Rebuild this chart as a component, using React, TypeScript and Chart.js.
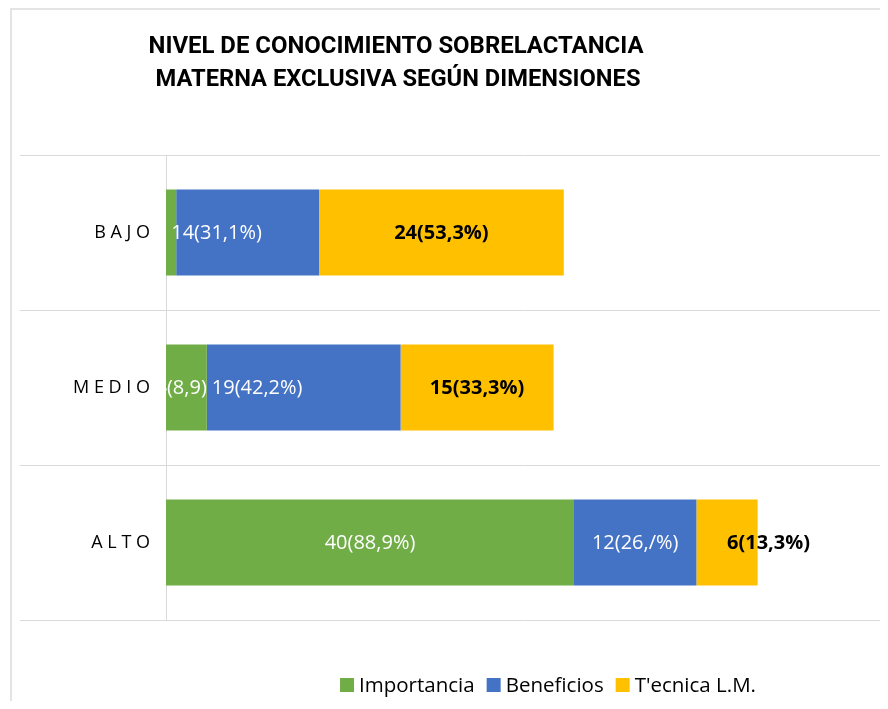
import React, { useEffect, useRef } from "react";
import { Chart, registerables } from "chart.js";

Chart.register(...registerables);

const TITLE_LINES = [
  "NIVEL DE CONOCIMIENTO SOBRELACTANCIA",
  "MATERNA EXCLUSIVA SEGÚN DIMENSIONES",
];
const CATEGORIES = ["B A J O", "M E D I O", "A L T O"];
const SERIES_NAMES = ["Importancia", "Beneficios", "T'ecnica L.M."];
const IMPORTANCIA = [1, 4, 40];
const BENEFICIOS = [14, 19, 12];
const TECNICA = [24, 15, 6];
const IMPORTANCIA_LABELS = ["", "4(8,9)", "40(88,9%)"];
const BENEFICIOS_LABELS = ["14(31,1%)", "19(42,2%)", "12(26,/%)"];
const TECNICA_LABELS = ["24(53,3%)", "15(33,3%)", "6(13,3%)"];
const X_MAX = 70;

const COLORS = ["#70AD47", "#4472C4", "#FFC000"];
const LABEL_COLORS = ["#ffffff", "#ffffff", "#000000"];
const LABEL_WEIGHT = ["normal", "normal", "bold"];
const LABEL_ALIGN = [
  ["center", "end", "center"],
  ["edge", "start", "center"],
  ["center", "center", "mid"],
];
const FONT = "'Open Sans', 'Noto Sans', sans-serif";
const GRID = "#d9d9d9";

const framePlugin = {
  id: "frame",
  beforeDraw(chart: any) {
    const { ctx, width, height } = chart;
    ctx.save();
    ctx.strokeStyle = "#e4e4e4";
    ctx.lineWidth = 2;
    ctx.beginPath();
    ctx.moveTo(3, height);
    ctx.lineTo(3, 1);
    ctx.lineTo(width, 1);
    ctx.stroke();
    ctx.restore();
  },
  beforeDatasetsDraw(chart: any) {
    const { ctx, chartArea } = chart;
    const y = chart.scales.y;
    const step = y.getPixelForValue(1) - y.getPixelForValue(0);
    ctx.save();
    ctx.strokeStyle = GRID;
    ctx.lineWidth = 1;
    for (let i = 0; i <= CATEGORIES.length; i++) {
      const py = Math.round(y.getPixelForValue(i) - step / 2) + 0.5;
      ctx.beginPath();
      ctx.moveTo(12, py);
      ctx.lineTo(chartArea.left, py);
      ctx.stroke();
    }
    ctx.restore();
  },
};

const labelsPlugin = {
  id: "segLabels",
  afterDatasetsDraw(chart: any) {
    const { ctx } = chart;
    const all = [IMPORTANCIA_LABELS, BENEFICIOS_LABELS, TECNICA_LABELS];
    ctx.save();
    ctx.textBaseline = "middle";
    chart.data.datasets.forEach((_: any, i: number) => {
      const meta = chart.getDatasetMeta(i);
      meta.data.forEach((el: any, j: number) => {
        const text = all[i][j];
        if (!text) return;
        const { x, base, y } = el.getProps(["x", "base", "y"], true);
        ctx.font = `${LABEL_WEIGHT[i]} 20px ${FONT}`;
        ctx.fillStyle = LABEL_COLORS[i];
        const a = LABEL_ALIGN[i][j];
        let tx = (x + base) / 2;
        if (a === "center") ctx.textAlign = "center";
        else if (a === "start") {
          ctx.textAlign = "left";
          tx = base + 5;
        } else if (a === "edge") {
          ctx.textAlign = "left";
          tx = base - 5;
        } else if (a === "end") {
          ctx.textAlign = "right";
          tx = x;
        } else {
          ctx.textAlign = "left";
        }
        ctx.fillText(text, tx, y + 1);
      });
    });
    ctx.restore();
  },
};

const titleLegendPlugin = {
  id: "titleLegend",
  afterDraw(chart: any) {
    const { ctx } = chart;
    ctx.save();
    ctx.fillStyle = "#000";
    ctx.textBaseline = "middle";
    ctx.textAlign = "center";
    ctx.font = `bold 24px Roboto, 'Open Sans', sans-serif`;
    const targets = [495, 485];
    const centers = [388, 390];
    const ys = [39, 72];
    TITLE_LINES.forEach((line, k) => {
      const w = ctx.measureText(line).width;
      const sx = targets[k] / w;
      ctx.save();
      ctx.translate(centers[k], ys[k]);
      ctx.scale(sx, 1);
      ctx.fillText(line, 0, 0);
      ctx.restore();
    });
    ctx.font = `20.5px ${FONT}`;
    ctx.textAlign = "left";
    const box = 14;
    const gap = 5;
    const itemGap = 12;
    const names = chart.data.datasets.map((d: any) => d.label);
    const widths = names.map((n: string) => ctx.measureText(n).width);
    const total =
      widths.reduce((s: number, w: number) => s + w + box + gap, 0) +
      itemGap * (names.length - 1);
    let lx = 540 - total / 2;
    const ly = 677;
    names.forEach((n: string, k: number) => {
      ctx.fillStyle = chart.data.datasets[k].backgroundColor;
      ctx.fillRect(lx, ly - box / 2, box, box);
      lx += box + gap;
      ctx.fillStyle = "#000";
      ctx.fillText(n, lx, ly + 1);
      lx += widths[k] + itemGap;
    });
    ctx.restore();
  },
};

export default function App() {
  const ref = useRef<HTMLCanvasElement | null>(null);
  useEffect(() => {
    if (!ref.current) return;
    const chart = new Chart(ref.current, {
      type: "bar",
      data: {
        labels: CATEGORIES,
        datasets: [
          { label: SERIES_NAMES[0], data: IMPORTANCIA, backgroundColor: COLORS[0] },
          { label: SERIES_NAMES[1], data: BENEFICIOS, backgroundColor: COLORS[1] },
          { label: SERIES_NAMES[2], data: TECNICA, backgroundColor: COLORS[2] },
        ],
      },
      options: {
        indexAxis: "y",
        animation: false,
        responsive: true,
        maintainAspectRatio: false,
        layout: { padding: { left: 0, right: 8, top: 147, bottom: 81 } },
        datasets: { bar: { categoryPercentage: 1, barPercentage: 0.555 } },
        scales: {
          x: { stacked: true, display: false, min: 0, max: X_MAX },
          y: {
            stacked: true,
            afterFit: (s: any) => {
              s.width = 158;
            },
            grid: { offset: true, color: GRID, drawTicks: false },
            border: { display: true, color: GRID },
            ticks: {
              padding: 16,
              color: "#000",
              font: { family: FONT, size: 18 },
            },
          },
        },
        plugins: {
          legend: { display: false },
          title: { display: false },
          tooltip: { enabled: false },
        },
      },
      plugins: [framePlugin, labelsPlugin, titleLegendPlugin],
    });
    return () => chart.destroy();
  }, []);
  return (
    <div style={{ width: 880, height: 693 }}>
      <canvas ref={ref} />
    </div>
  );
}
